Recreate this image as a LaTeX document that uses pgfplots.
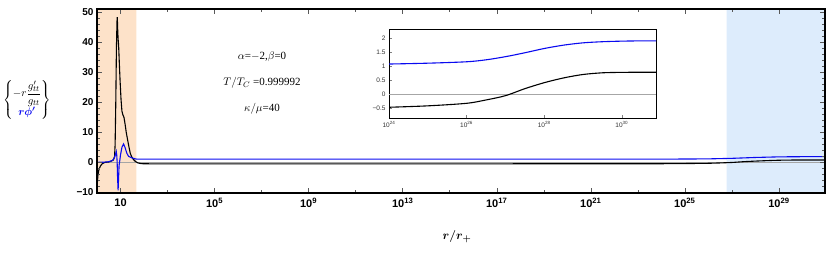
\documentclass[border=0pt]{standalone}
\usepackage{amsmath}
\usepackage{pgfplots}
\pgfplotsset{compat=1.18}
\usepackage{fontspec}
\setmainfont{Liberation Serif}
\setsansfont{Liberation Sans}
\definecolor{peach}{RGB}{253,226,201}
\definecolor{lightblue}{RGB}{221,236,252}
\definecolor{myblue}{RGB}{10,10,240}
\begin{document}
\begin{tikzpicture}[x=1pt,y=1pt]
\useasboundingbox (0,0) rectangle (830,252);
\begin{axis}[
  at={(97pt,59pt)}, anchor=south west,
  scale only axis, width=728pt, height=184pt,
  xmode=log, xmin=1, xmax=9.1e30,
  ymin=-10.2, ymax=51,
  axis line style={line width=1.8pt},
  tick align=inside,
  major tick length=5pt, minor tick length=3pt,
  every tick/.style={gray!70!black, line width=0.5pt},
  xtick={10,1e5,1e9,1e13,1e17,1e21,1e25,1e29},
  xticklabels={10,10\textsuperscript{5},10\textsuperscript{9},10\textsuperscript{13},10\textsuperscript{17},10\textsuperscript{21},10\textsuperscript{25},10\textsuperscript{29}},
  minor xtick={1e3,1e7,1e11,1e15,1e19,1e23,1e27},
  ytick={-10,0,10,20,30,40,50},
  yticklabels={−10,0,10,20,30,40,50},
  minor ytick={-8,-6,-4,-2,2,4,6,8,12,14,16,18,22,24,26,28,32,34,36,38,42,44,46,48},
  tick label style={font=\sffamily\bfseries\fontsize{10}{11}\selectfont},
  xticklabel style={yshift=-2pt, font=\sffamily\bfseries\fontsize{11}{12}\selectfont},
  axis on top,
  clip=true,
]
\addplot[fill=peach, draw=none] coordinates {(1,-10.2) (47,-10.2) (47,51) (1,51)} \closedcycle;
\addplot[fill=lightblue, draw=none] coordinates {(6e26,-10.2) (9.1e30,-10.2) (9.1e30,51) (6e26,51)} \closedcycle;
\addplot[gray!70, line width=0.4pt] coordinates {(1,0) (9.1e30,0)};
% black curve
\addplot[black, line width=1.1pt] coordinates {
(1.0,-10.5) (1.03,-7) (1.1,-4.2) (1.2,-2.5) (1.4,-1.2) (1.7,-0.4) (2.2,0) (3.1,0.1) (4.0,0.4) (5.0,0.8) (5.6,2) (5.9,6) (6.3,20) (6.7,38) (7.1,47) (7.3,48.3) (7.6,44) (7.9,41) (8.3,39) (8.9,33) (9.6,27) (10.5,21) (11.5,17) (12.6,15.8) (14,15) (15.8,12.5) (17.5,10) (20,7.5) (23,5) (26,3) (30,1.8) (35,1) (43,0.3) (55,-0.2) (80,-0.45) (200,-0.5)
(1e5,-0.5) (1e15,-0.5) (1e24,-0.46) (1e25,-0.41) (1e26,-0.32) (3.2e26,-0.2) (1e27,-0.05) (3.5e27,0.24) (1e28,0.41) (3.9e28,0.6) (1e29,0.70) (3.4e29,0.76) (1e30,0.77) (9.1e30,0.77)};
% blue curve
\addplot[myblue, line width=1.1pt] coordinates {
(1.0,0) (2,0.05) (3.1,0.2) (4.5,0.6) (5.5,1.5) (6.2,2.8) (6.6,3.6) (6.9,2.5) (7.2,0) (7.5,-5) (7.9,-9.3) (8.3,-5) (8.7,-1) (9.1,0) (10,2.5) (11.5,5) (13.5,6.1) (15.5,5) (18.6,3) (22,2) (30,1.5) (45,1.1) (60,1.05)
(1e5,1.05) (1e15,1.05) (1e24,1.07) (1e25,1.1) (1e26,1.15) (1e27,1.33) (1e28,1.62) (1e29,1.82) (1e30,1.88) (9.1e30,1.89)};
\end{axis}
% inset
\begin{axis}[
  at={(389pt,134pt)}, anchor=south west,
  scale only axis, width=267pt, height=89pt,
  xmode=log, xmin=1e24, xmax=7.6e30,
  ymin=-0.84, ymax=2.31,
  axis background/.style={fill=white},
  axis line style={line width=0.6pt},
  tick align=inside,
  major tick length=2.5pt,
  every tick/.style={gray, line width=0.4pt},
  xtick={1e24,1e26,1e28,1e30},
  xticklabels={10\textsuperscript{24},10\textsuperscript{26},10\textsuperscript{28},10\textsuperscript{30}},
  ytick={-0.5,0,0.5,1,1.5,2},
  yticklabels={−0.5,0,0.5,1,1.5,2},
  tick label style={font=\sffamily\fontsize{6.5}{7}\selectfont, text=black!80},
  xtick pos=bottom, ytick pos=left,
  clip=true,
]
\addplot[gray!70, line width=0.4pt] coordinates {(1e24,0) (7.6e30,0)};
\addplot[black, line width=1.1pt, smooth, tension=0.5] coordinates {
(1e24,-0.46) (1e25,-0.41) (1e26,-0.32) (3.2e26,-0.2) (1e27,-0.05) (3.2e27,0.2) (1e28,0.41) (3.2e28,0.58) (1e29,0.70) (3.2e29,0.76) (1e30,0.775) (3.2e30,0.78) (7.6e30,0.78)};
\addplot[myblue, line width=1.1pt, smooth, tension=0.5] coordinates {
(1e24,1.07) (1e25,1.1) (1e26,1.15) (3.2e26,1.22) (1e27,1.33) (3.2e27,1.47) (1e28,1.62) (3.2e28,1.74) (1e29,1.82) (3.2e29,1.86) (1e30,1.88) (3.2e30,1.89) (7.6e30,1.89)};
\end{axis}
% annotations
\node[font=\fontsize{11}{13}\selectfont] at (262,195) {$\alpha$=$-$2,$\beta$=0};
\node[font=\fontsize{11}{13}\selectfont] at (262,169) {$T/T_C$ =0.999992};
\node[font=\fontsize{11}{13}\selectfont] at (262,143) {$\kappa/\mu$=40};
% y label
\node[font=\fontsize{11}{13}\selectfont, anchor=west, inner sep=0pt] at (3,152) {$\left\{\begin{array}{@{}c@{}} -r\dfrac{g_{tt}'}{g_{tt}} \\[3pt] \textcolor{myblue}{\boldsymbol{r\phi'}} \end{array}\right\}$};
% x label
\node[font=\fontsize{13}{14}\selectfont] at (457,15) {$\boldsymbol{r/r_{+}}$};
\end{tikzpicture}
\end{document}
